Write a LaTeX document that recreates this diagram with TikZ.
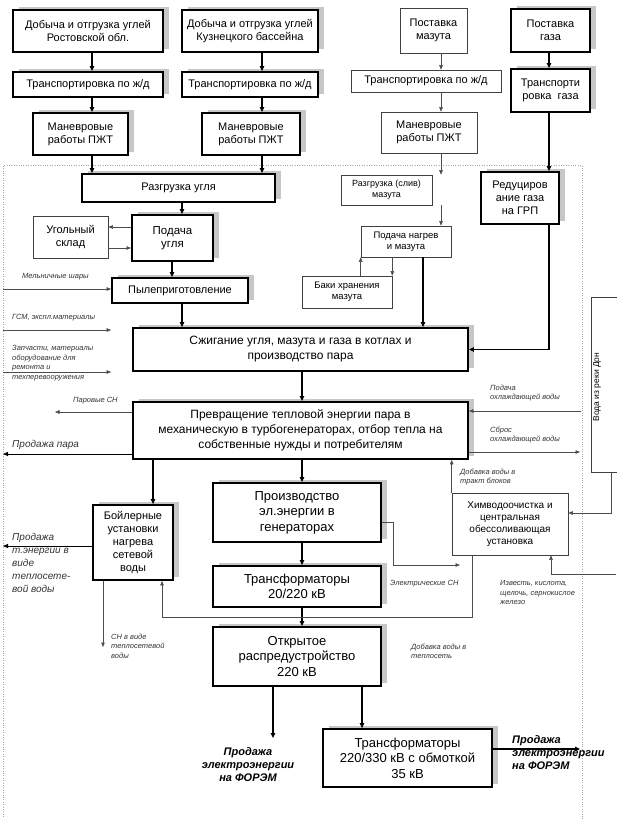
\documentclass[tikz,border=0pt]{standalone}
\usepackage{fontspec}
\setmainfont{Liberation Sans}
\usetikzlibrary{arrows.meta,shadows}
\begin{document}
\begin{tikzpicture}[x=1pt,y=-1pt]
\tikzset{every node/.style={align=center,inner sep=1pt,font=\fontsize{11}{13}\selectfont},
  wh/.style 2 args={minimum width=#1,minimum height=#2},
  fat/.style={draw,fill=white,line width=1.8pt,drop shadow={shadow xshift=6pt,shadow yshift=3pt,fill=black!22,opacity=1}},
  slim/.style={draw=black!75,line width=0.6pt},
  arr/.style={-{Triangle[length=5pt,width=4.5pt]},line width=1.1pt},
  feed/.style={-{Triangle[length=4.5pt,width=3.5pt]},line width=0.5pt,draw=black!70},
  sideout/.style={-{Triangle[length=5pt,width=4pt]},line width=0.8pt},
  bigtext/.style={font=\fontsize{13}{15.5}\selectfont},
  midtext/.style={font=\fontsize{12}{15}\selectfont},
  smalltext/.style={font=\fontsize{9.5}{11}\selectfont},
  note/.style={font=\itshape\fontsize{7.5}{9.5}\selectfont,text=black!80,align=left,inner sep=0pt,anchor=north west},
  bignote/.style={note,font=\itshape\fontsize{10}{13}\selectfont},
  sale/.style={font=\bfseries\itshape\fontsize{11}{13}\selectfont,inner sep=0pt,anchor=north}}
\useasboundingbox (0,0) rectangle (616,819);
\draw[dotted,black!35] (3,819) -- (3,165) -- (582,165) -- (582,819);

\node[fat,wh={150}{42}] (dobR) at (88,31) {Добыча и отгрузка углей\\Ростовской обл.};
\node[fat,wh={136}{42}] (dobK) at (250,31) {Добыча и отгрузка углей\\Кузнецкого бассейна};
\node[slim,wh={67}{45}] (postM) at (433.5,30.5) {Поставка\\мазута};
\node[fat,wh={79}{43}] (postG) at (550.5,30.5) {Поставка\\газа};
\node[fat,wh={150}{25}] (trR) at (88,84.5) {Транспортировка по ж/д};
\node[fat,wh={136}{25}] (trK) at (250,84.5) {Транспортировка по ж/д};
\node[slim,wh={150}{22}] (trM) at (426,81) {Транспортировка по ж/д};
\node[fat,wh={79}{43}] (trG) at (550.5,90.5) {Транспорти\\ровка\ \ газа};
\node[fat,wh={95}{42}] (manR) at (80.5,134) {Маневровые\\работы ПЖТ};
\node[fat,wh={98}{42}] (manK) at (251,134) {Маневровые\\работы ПЖТ};
\node[slim,wh={96}{41}] (manM) at (429,132.5) {Маневровые\\работы ПЖТ};
\node[fat,wh={193}{28}] (razU) at (178.5,188) {Разгрузка угля};
\node[slim,wh={91}{30},font=\fontsize{9}{11}\selectfont] (razM) at (386.5,190) {Разгрузка (слив)\\мазута};
\node[fat,wh={78}{52}] (redG) at (520,198) {Редуциров\\ание газа\\на ГРП};
\node[fat,wh={81}{46},font=\fontsize{11.5}{13.5}\selectfont] (podU) at (172.5,238) {Подача\\угля};
\node[slim,wh={75}{42}] (sklad) at (70.5,237) {Угольный\\склад};
\node[slim,wh={90}{31},smalltext] (podM) at (406,241.5) {Подача нагрев\\и мазута};
\node[slim,wh={90}{32},smalltext] (baki) at (347,292) {Баки хранения\\мазута};
\node[fat,wh={136}{25}] (pyl) at (180,290.5) {Пылеприготовление};
\node[fat,wh={335}{43},midtext] (szh) at (300.5,349.5) {Сжигание угля, мазута и газа в котлах и\\производство пара};
\node[fat,wh={335}{57},midtext] (prev) at (300.5,430.5) {Превращение тепловой энергии пара в\\механическую в турбогенераторах, отбор тепла на\\собственные нужды и потребителям};
\node[fat,wh={80}{75}] (boil) at (133,542.5) {Бойлерные\\установки\\нагрева\\сетевой\\воды};
\node[fat,wh={168}{59},bigtext] (proizv) at (297,512.5) {Производство\\эл.энергии в\\генераторах};
\node[fat,wh={168}{41},bigtext] (trans1) at (297,586.5) {Трансформаторы\\20/220 кВ};
\node[fat,wh={168}{59},bigtext] (oru) at (297,656.5) {Открытое\\распредустройство\\220 кВ};
\node[fat,wh={169}{58},bigtext] (trans2) at (407.5,758) {Трансформаторы\\220/330 кВ с обмоткой\\35 кВ};
\node[slim,wh={116}{62},font=\fontsize{10}{12}\selectfont] (himvo) at (510,524) {Химводоочистка и\\центральная\\обессоливающая\\установка};
\node[slim,wh={35}{175}] (voda) at (608.5,384.5) {};
\node[rotate=90,font=\fontsize{8.5}{10}\selectfont] (vodaT) at (597,387) {Вода из реки Дон};

\coordinate (cR) at (92,0);
\coordinate (cK) at (262,0);
\coordinate (cM) at (441,0);
\coordinate (cG) at (549,0);
\coordinate (cU) at (182,0);
\coordinate (cP) at (172,0);
\coordinate (cF) at (423,0);
\coordinate (cS) at (302,0);
\coordinate (cB) at (153,0);
\coordinate (cT) at (362,0);
\foreach \a/\b/\c in {dobR/trR/cR,trR/manR/cR,manR/razU/cR,dobK/trK/cK,trK/manK/cK,manK/razU/cK,
  postG/trG/cG,trG/redG/cG,razU/podU/cU,podU/pyl/cP,pyl/szh/cU,podM/szh/cF,
  szh/prev/cS,prev/boil/cB,prev/proizv/cS,proizv/trans1/cS,trans1/oru/cS,oru/trans2/cT}
  \draw[arr] (\a.south -| \c) -- (\b.north -| \c);
\foreach \a/\b in {postM/trM,trM/manM,manM/razM,razM/podM}
  \draw[feed] (\a.south -| cM) -- (\b.north -| cM);
\draw[arr] (redG.south -| cG) |- (szh.east);
\draw[feed] ([yshift=11pt]podU.west) -- ([yshift=11pt]podU.west -| sklad.east);
\draw[feed] ([yshift=-10pt]podU.west -| sklad.east) -- ([yshift=-10pt]podU.west);
\draw[feed] (baki.north -| podM.west) -- (podM.south west);
\draw[feed] (podM.south -| baki.east) -- (baki.north east);

\coordinate (saleL) at (273,738);
\coordinate (saleR) at (580,749);
\draw[arr] (oru.south -| saleL) -- (saleL);
\draw[arr] (trans2.east |- saleR) -- (saleR);

\coordinate (melIn) at (3,289);
\coordinate (gsmIn) at (3,330);
\coordinate (zapIn) at (3,372);
\draw[feed] (melIn) -- (melIn -| pyl.west);
\draw[feed,shorten >=21pt] (gsmIn) -- (gsmIn -| szh.west);
\draw[feed,shorten >=21pt] (zapIn) -- (zapIn -| szh.west);

\coordinate (parSN) at (55,412);
\coordinate (parOut) at (3,454);
\coordinate (teplOut) at (3,546);
\coordinate (snOut) at (103,647);
\draw[feed] (prev.west |- parSN) -- (parSN);
\draw[sideout] (prev.west |- parOut) -- (parOut);
\draw[sideout] (boil.west |- teplOut) -- (teplOut);
\draw[feed] (boil.south -| snOut) -- (snOut);

\coordinate (loopR) at (472,617);
\coordinate (loopL) at (162,617);
\draw[feed] (himvo.south -| loopR) -- (loopR) -- (loopL) -- (loopL |- boil.south);
\coordinate (elOut) at (460,565);
\draw[feed] ([yshift=-10pt]proizv.east) -- ++(11,0) |- (elOut);

\coordinate (ohlIn) at (581,411);
\coordinate (ohlOut) at (580,452);
\draw[feed] (ohlIn) -- (ohlIn -| prev.east);
\draw[feed] (ohlOut -| prev.east) -- (ohlOut);
\draw[feed] (himvo.north west) -- (himvo.north west |- prev.south);
\draw[feed] ([xshift=2.5pt]voda.south) |- ([yshift=11pt]himvo.east);
\coordinate (izvIn) at (616,574);
\coordinate (izvUp) at (551,574);
\draw[feed] (izvIn) -- (izvUp) -- (izvUp |- himvo.south);

\node[note] (melL) at (22,273.5) {Мельничные шары};
\node[note] (gsmL) at (12,314.5) {ГСМ, экспл.материалы};
\node[note] (zapL) at (12,345.5) {Запчасти, материалы\\оборудование для\\ремонта и\\техперевооружения};
\node[note] (parSNL) at (73,397.5) {Паровые СН};
\node[bignote] (parL) at (12,439.7) {Продажа пара};
\node[bignote] (teplL) at (12,532.7) {Продажа\\т.энергии в\\виде\\теплосете-\\вой воды};
\node[note] (snL) at (111,633.5) {СН в виде\\теплосетевой\\воды};
\node[note] (elL) at (390,580.5) {Электрические СН};
\node[note] (dobTL) at (411,643.5) {Добавка воды в\\теплосеть};
\node[note] (ohlInL) at (490,384.5) {Подача\\охлаждающей воды};
\node[note] (ohlOutL) at (490,426.5) {Сброс\\охлаждающей воды};
\node[note] (dobBL) at (460,468.5) {Добавка воды в\\тракт блоков};
\node[note] (izvL) at (500,580.5) {Известь, кислота,\\щелочь, сернокислое\\железо};
\node[sale] (saleLT) at (248,747.3) {Продажа\\электроэнергии\\на ФОРЭМ};
\node[sale,align=left,anchor=north west] (saleRT) at (512,735.3) {Продажа\\электроэнергии\\на ФОРЭМ};
\end{tikzpicture}
\end{document}
